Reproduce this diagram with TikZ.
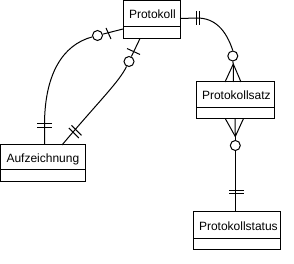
\documentclass[tikz,border=0pt]{standalone}
\usepackage{fontspec}
\setmainfont{Liberation Sans}
\begin{document}
\begin{tikzpicture}[x=1pt,y=-1pt,line width=1pt,font=\fontsize{12}{14}\selectfont,
  head/.style={draw, rectangle, anchor=north west, outer sep=0pt, inner xsep=6pt, inner ysep=0pt,
               minimum height=26pt, text height=10pt, text depth=0pt, align=left},
  foot/.style={draw, rectangle, anchor=north west, outer sep=0pt, inner sep=0pt},
  ring/.style={draw, circle, inner sep=0pt, minimum size=10pt},
  link/.style={draw, line width=1pt},
  tick/.style={draw, line width=1pt}]
\useasboundingbox (0,0) rectangle (294,264);

% entities
\node[head, text width=45pt] (pt) at (123,0.5) {Protokoll};
\node[foot, minimum width=57pt, minimum height=12pt] (pb) at (pt.south west) {};
\node[head, text width=66pt] (st) at (196,82) {Protokollsatz};
\node[foot, minimum width=78pt, minimum height=11pt] (sb) at (st.south west) {};
\node[head, text width=73pt, minimum height=25pt] (at) at (0.5,145) {Aufzeichnung};
\node[foot, minimum width=85pt, minimum height=12pt] (ab) at (at.south west) {};
\node[head, text width=75pt] (xt) at (193,212) {Protokollstatus};
\node[foot, minimum width=87pt, minimum height=11pt] (xb) at (xt.south west) {};

% rings
\node[ring] (c1) at (97.5,35.5) {};
\node[ring] (c2) at (129,61.5) {};
\node[ring] (c3) at (232.8,56) {};
\node[ring] (c4) at (235.3,145.5) {};

% connector 1: Protokoll -- Aufzeichnung
\coordinate (k1) at (44.5,123);
\draw[link] ([yshift=3.5pt]pb.west) -- (c1);
\draw[link] (c1) .. controls (62,45) and (45,75) .. (k1) -- (k1 |- at.north);
\draw[tick] (106,28) -- (111,39);
\draw[tick] (37,124) -- (52,124);
\draw[tick] (37,128) -- (52,128);

% connector 2: Protokoll -- Aufzeichnung
\draw[link] ([xshift=-11.5pt]pb.south) -- (c2);
\draw[link] (c2) .. controls (119,82) and (100,100) .. ([xshift=19pt]at.north);
\draw[tick] (127,48.5) -- (140,54.5);
\draw[tick] (68.8,128) -- (78.8,138);
\draw[tick] (71.5,125.3) -- (81.5,135.3);

% connector 3: Protokoll -- Protokollsatz
\coordinate (k3) at (197,18);
\draw[link] ([yshift=-5pt]pt.east) -- (k3) .. controls (215,18) and (226,30) .. (c3.north);
\draw[tick] (196,11) -- (196,25);
\draw[tick] (199.5,11) -- (199.5,25);
\coordinate (a3) at (233.3,64);
\draw[link] (c3.south) -- (a3);
\draw[link] (a3) -- ([xshift=-10pt]st.north);
\draw[link] (a3) -- ([xshift=-1.5pt]st.north);
\draw[link] (a3) -- ([xshift=6pt]st.north);

% connector 4: Protokollsatz -- Protokollstatus
\coordinate (a4) at (235.3,136.5);
\draw[link] ([xshift=-9.5pt]sb.south) -- (a4);
\draw[link] (sb.south) -- (a4);
\draw[link] ([xshift=8.3pt]sb.south) -- (a4);
\draw[link] (a4) -- (c4.north);
\draw[link] (c4.south) -- (c4.south |- xt.north);
\draw[tick] (229,190.5) -- (244,190.5);
\draw[tick] (229,194) -- (244,194);
\end{tikzpicture}
\end{document}
